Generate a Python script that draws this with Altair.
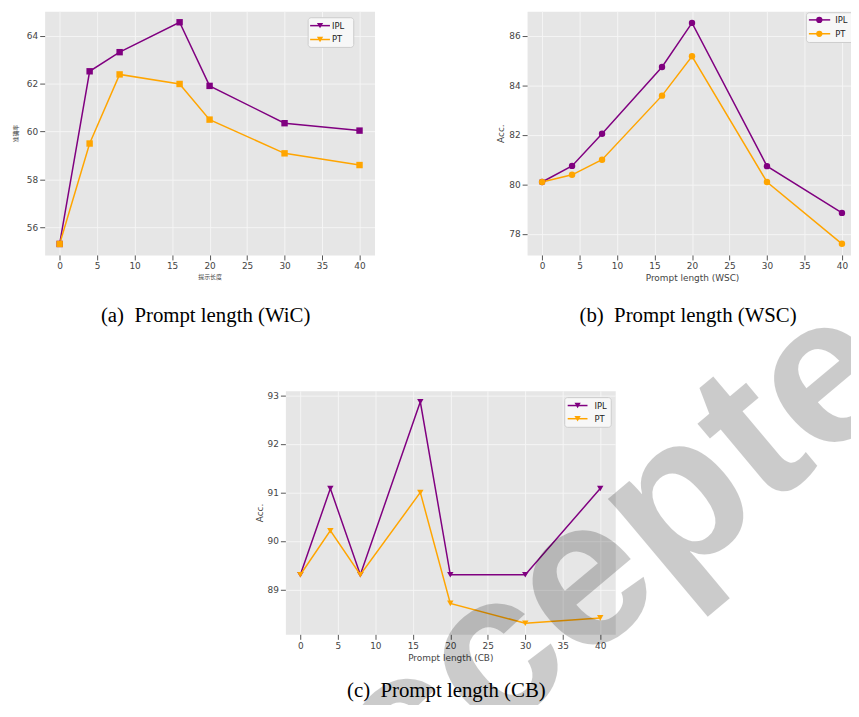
import altair as alt
import pandas as pd

# ---------------- data ----------------
lengths = [0, 4, 8, 16, 20, 30, 40]
series_names = ["IPL", "PT"]
series_colors = ["#800080", "#FFA500"]

wic_ipl = [55.3, 62.52, 63.32, 64.57, 61.91, 60.35, 60.04]
wic_pt = [55.3, 59.5, 62.39, 61.99, 60.5, 59.09, 58.6]
wsc_ipl = [80.1, 80.75, 82.05, 84.75, 86.53, 80.74, 78.85]
wsc_pt = [80.1, 80.39, 81.0, 83.59, 85.18, 80.1, 77.6]
cb_ipl = [89.3, 91.08, 89.3, 92.87, 89.3, 89.3, 91.08]
cb_pt = [89.3, 90.21, 89.3, 91.0, 88.71, 88.3, 88.41]

x_ticks = [0, 5, 10, 15, 20, 25, 30, 35, 40]
x_domain = [-2, 42]
wic_y_ticks = [56, 58, 60, 62, 64]
wsc_y_ticks = [78, 80, 82, 84, 86]
cb_y_ticks = [89, 90, 91, 92, 93]
wic_y_domain = [54.84, 65.03]
wsc_y_domain = [77.15, 87.0]
cb_y_domain = [88.07, 93.1]

captions = ["(a)\u2002Prompt length (WiC)", "(b)\u2002Prompt length (WSC)", "(c)\u2002Prompt length (CB)"]
watermark_text = ["Accepted"]

# ---------------- style ----------------
BG = "#E6E6E6"
PAD_LEFT = 37
SVG_W, SVG_H = 851, 697
PANEL_W, PANEL_H = 333, 246


def make_df(ipl, pt):
    rows = []
    for name, vals in zip(series_names, [ipl, pt]):
        for x, v in zip(lengths, vals):
            rows.append({"len": x, "acc": v, "series": name})
    return pd.DataFrame(rows)


def legend_layers(box, row_y, line_x, marker_x, label_x, shape):
    """Framed legend (line + marker + label per series) inside the plot area."""
    one = pd.DataFrame({"k": [0]})
    layers = [alt.Chart(one).mark_rect(fill="#F7F7F7", stroke="#CCCCCC", strokeWidth=1,
                                        cornerRadius=3).encode(
        x=alt.value(box[0]), x2=alt.value(box[1]), y=alt.value(box[2]), y2=alt.value(box[3]))]
    for name, col, yy in zip(series_names, series_colors, row_y):
        lab = pd.DataFrame({"label": [name]})
        layers.append(alt.Chart(lab).mark_rule(color=col, strokeWidth=1.5).encode(
            x=alt.value(line_x[0]), x2=alt.value(line_x[1]), y=alt.value(yy)))
        layers.append(alt.Chart(lab).mark_point(filled=True, shape=shape, size=40,
                                                color=col, opacity=1).encode(
            x=alt.value(marker_x), y=alt.value(yy)))
        layers.append(alt.Chart(lab).mark_text(align="left", baseline="middle",
                                               font="DejaVu Sans", fontSize=8.5,
                                               color="#222222").encode(
            text="label:N", x=alt.value(label_x), y=alt.value(yy)))
    return layers


def make_panel(ipl, pt, ydom, yticks, shape, leg, xtitle, ytitle,
               tfont, tsize, ttpad, caption, cap_offset):
    df = make_df(ipl, pt)
    base = alt.Chart(df)
    X = alt.X("len:Q", scale=alt.Scale(domain=x_domain, nice=False, zero=False),
              axis=alt.Axis(values=x_ticks, format="d", title=xtitle,
                            titleFont=tfont, titleFontSize=tsize, titlePadding=3))
    Y = alt.Y("acc:Q", scale=alt.Scale(domain=ydom, nice=False, zero=False),
              axis=alt.Axis(values=yticks, format="d", title=ytitle,
                            titleFont=tfont, titleFontSize=tsize, titlePadding=ttpad))
    cscale = alt.Scale(domain=series_names, range=series_colors)
    line = base.mark_line(strokeWidth=1.5).encode(
        x=X, y=Y, color=alt.Color("series:N", scale=cscale, legend=None),
        order=alt.Order("len:Q"))
    pts = base.mark_point(filled=True, shape=shape, size=42, opacity=1).encode(
        x=X, y=Y, color=alt.Color("series:N", scale=cscale, legend=None))
    return alt.layer(line, pts, *leg).properties(
        width=PANEL_W, height=PANEL_H,
        view=alt.ViewBackground(fill=BG, stroke="transparent"),
        title=alt.TitleParams(text=caption, orient="bottom", anchor="middle",
                              frame="group", font="Liberation Serif", fontSize=21,
                              fontWeight="normal", color="#000000", offset=cap_offset,
                              dx=-4))


cjk = "Noto Sans CJK SC"
panel_a = make_panel(wic_ipl, wic_pt, wic_y_domain, wic_y_ticks, "square",
                     legend_layers((266, 312, 6.5, 36.5), (14.5, 28.5), (268, 288), 278, 290,
                                   "triangle-down"),
                     "提示长度", "准确率", cjk, 6, 8, captions[0], 26)
panel_b = make_panel(wsc_ipl, wsc_pt, wsc_y_domain, wsc_y_ticks, "circle",
                     legend_layers((282, 340, 1.5, 31.5), (8.7, 22.7), (284.5, 306), 295, 311,
                                   "circle"),
                     "Prompt length (WSC)", "Acc.", "DejaVu Sans", 9, 3, captions[1], 23)
panel_c = make_panel(cb_ipl, cb_pt, cb_y_domain, cb_y_ticks, "triangle-down",
                     legend_layers((282, 329, 7, 37), (15, 28.3), (285, 305), 295, 312,
                                   "triangle-down"),
                     "Prompt length (CB)", "Acc.", "DejaVu Sans", 9, 3, captions[2], 18)


def spacer(w, h=1):
    return alt.Chart(pd.DataFrame({"v": [0]})).mark_point(opacity=0, size=1).encode(
        x=alt.value(w / 2), y=alt.value(0.5)).properties(
        width=w, height=h, view=alt.ViewBackground(fill="transparent", stroke="transparent"))


# watermark, drawn from a 1x1 holder placed right after panel (c)
mark_df = pd.DataFrame({"t": watermark_text})
holder = alt.Chart(mark_df).mark_text(
    angle=320, font="Liberation Sans", fontSize=212, fontWeight="bold",
    color="#000000", opacity=0.2, align="center", baseline="middle").encode(
    text="t:N", x=alt.value(-10), y=alt.value(174)).properties(
    width=1, height=1, view=alt.ViewBackground(fill="transparent", stroke="transparent"))

top = alt.hconcat(panel_a, panel_b, spacing=154, bounds="flush").resolve_scale(
    color="independent")
bottom = alt.hconcat(spacer(243), panel_c, holder, spacing=0, bounds="flush").resolve_scale(
    color="independent")

chart = alt.vconcat(top, bottom, spacing=383, bounds="flush").resolve_scale(
    color="independent"
).properties(
    autosize=alt.AutoSizeParams(type="none"),
    padding={"left": PAD_LEFT, "top": 0, "right": SVG_W - PAD_LEFT, "bottom": SVG_H},
    background="white",
).configure_view(stroke="transparent").configure_axis(
    domain=False, grid=True, gridColor="#F5F5F5", gridWidth=1,
    tickColor="#555555", tickSize=5, tickWidth=1,
    labelFont="DejaVu Sans", labelFontSize=9, labelColor="#444444", labelPadding=2,
    titleColor="#444444", titleFontWeight="normal",
)

chart.save("out.html", embed_options={"renderer": "svg", "actions": False})
